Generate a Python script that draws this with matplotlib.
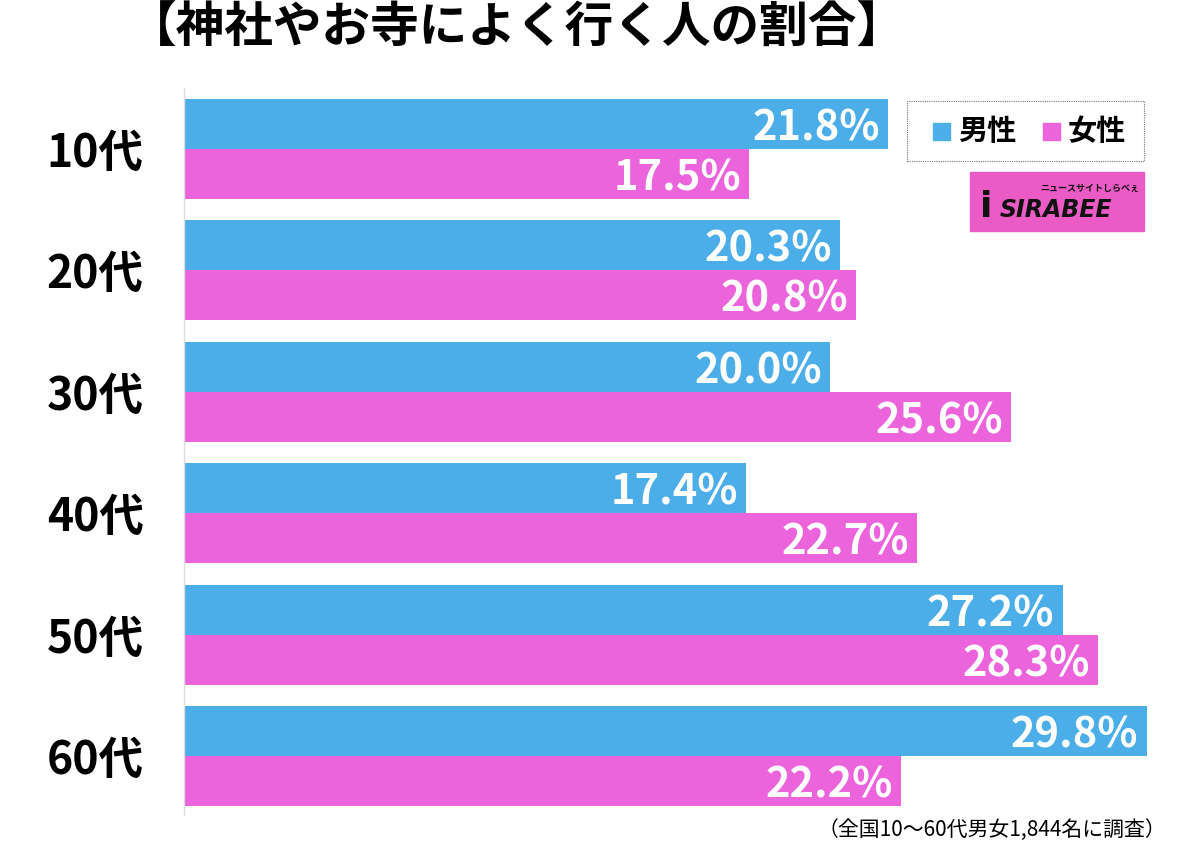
import matplotlib
matplotlib.use("Agg")
import matplotlib.pyplot as plt
from matplotlib.patches import Rectangle
import numpy as np

plt.rcParams['font.family'] = ['Noto Sans CJK JP', 'DejaVu Sans']

categories = ["10代", "20代", "30代", "40代", "50代", "60代"]
male = [21.8, 20.3, 20.0, 17.4, 27.2, 29.8]
female = [17.5, 20.8, 25.6, 22.7, 28.3, 22.2]
series_names = ["男性", "女性"]
title = "【神社やお寺によく行く人の割合】"
note = "（全国10〜60代男女1,844名に調査）"

BLUE = "#4BAEE9"
PINK = "#EC64DC"

W, H = 1200, 850
fig = plt.figure(figsize=(W / 100, H / 100), dpi=100)
ax = fig.add_axes([184 / W, 1 - 815 / H, (1153 - 184) / W, (815 - 88) / H])

y = np.arange(len(categories))
bh = 0.412
ax.barh(y - bh / 2, male, height=bh, color=BLUE)
ax.barh(y + bh / 2, female, height=bh, color=PINK)
ax.set_xlim(0, 30)
ax.set_ylim(5.486, -0.502)

for i, (m, f) in enumerate(zip(male, female)):
    ax.text(m - 0.25, i - bh / 2, f"{m:.1f}%", ha="right", va="center_baseline",
            color="white", fontsize=30, fontweight="bold")
    ax.text(f - 0.25, i + bh / 2, f"{f:.1f}%", ha="right", va="center_baseline",
            color="white", fontsize=30, fontweight="bold")

ax.set_yticks(y)
ax.set_yticklabels(categories, fontsize=32, fontweight="bold")
ax.tick_params(axis="y", length=0, pad=29)
ax.set_xticks([])
for s in ["top", "right", "bottom"]:
    ax.spines[s].set_visible(False)
ax.spines["left"].set_color("#dddddd")
ax.spines["left"].set_linewidth(1)

fig.text(517 / W, 1 - 28 / H, title, ha="center", va="center", fontsize=35, fontweight="bold")
fig.text(1166 / W, 1 - 830 / H, note, ha="right", va="center", fontsize=15)

# legend
fig.patches.append(Rectangle((907 / W, 1 - 161 / H), (1144 - 907) / W, 60 / H,
                             transform=fig.transFigure, fill=False, edgecolor="#777777",
                             linestyle=(0, (1, 1)), linewidth=0.8))
fig.patches.append(Rectangle((933 / W, 1 - 140 / H), 17 / W, 17 / H,
                             transform=fig.transFigure, color=BLUE))
fig.text(958 / W, 1 - 131 / H, series_names[0], ha="left", va="center", fontsize=21, fontweight="bold")
fig.patches.append(Rectangle((1043 / W, 1 - 140 / H), 17 / W, 17 / H,
                             transform=fig.transFigure, color=PINK))
fig.text(1068 / W, 1 - 131 / H, series_names[1], ha="left", va="center", fontsize=21, fontweight="bold")

# logo
fig.patches.append(Rectangle((970 / W, 1 - 231 / H), (1144 - 970) / W, 59 / H,
                             transform=fig.transFigure, color="#EB5BC6"))
fig.text(1000 / W, 1 - 210 / H, "SIRABEE", ha="left", va="center", fontsize=17,
         fontweight="heavy", style="italic", family=["DejaVu Sans"], color="#111111")
fig.text(1040 / W, 1 - 188 / H, "ニュースサイトしらべぇ", ha="left", va="center", fontsize=6.5,
         fontweight="bold", color="#111111")
fig.text(986 / W, 1 - 207 / H, "i", ha="center", va="center", fontsize=26,
         fontweight="heavy", color="#111111", family=["DejaVu Sans"])

fig.savefig("out.png", dpi=100)
